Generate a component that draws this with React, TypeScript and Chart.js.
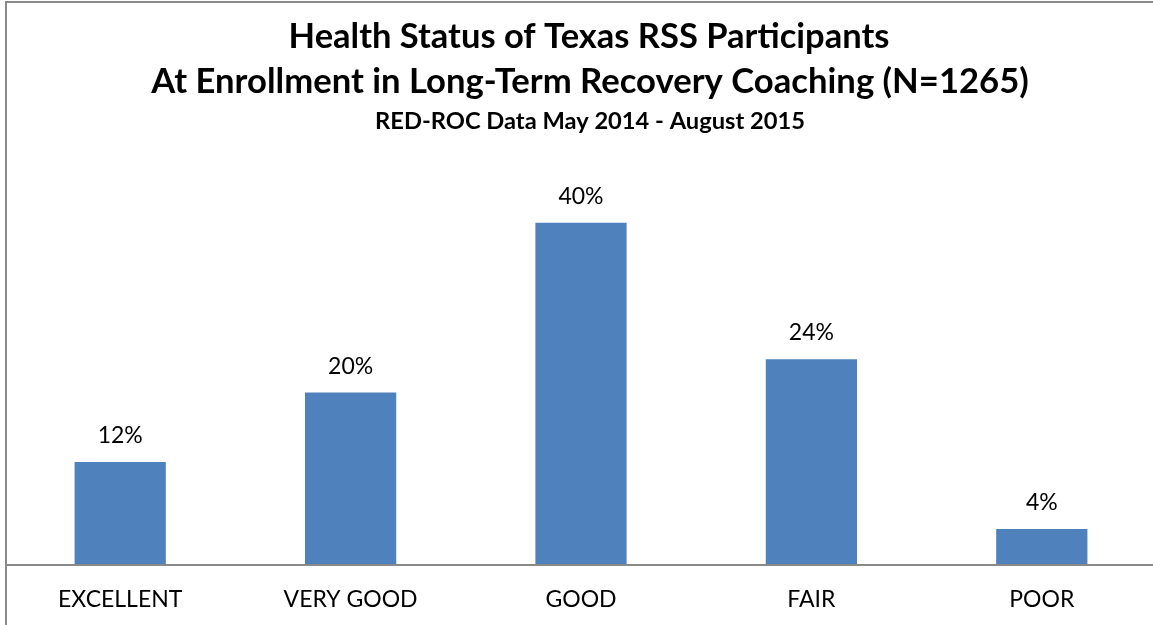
import React, { useEffect, useRef } from "react";
import { Chart, registerables } from "chart.js";

Chart.register(...registerables);

const titleLines = [
  "Health Status of Texas RSS Participants",
  "At Enrollment in Long-Term Recovery Coaching (N=1265)",
];
const subtitle = "RED-ROC Data May 2014 - August 2015";
const categories = ["EXCELLENT", "VERY GOOD", "GOOD", "FAIR", "POOR"];
const percentValues = [12.0, 20.1, 39.9, 24.0, 4.2];
const yMax = 45;

const FONT = "Lato, 'Open Sans', sans-serif";
const GRAY = "#898989";
const BAR = "#4F81BD";

const decorPlugin = {
  id: "decor",
  afterDraw(chart: any) {
    const ctx = chart.ctx as CanvasRenderingContext2D;
    ctx.save();
    // outer frame (top and left visible)
    ctx.strokeStyle = GRAY;
    ctx.lineWidth = 2;
    ctx.beginPath();
    ctx.moveTo(6, 625);
    ctx.lineTo(6, 2);
    ctx.lineTo(1160, 2);
    ctx.stroke();
    // x axis line
    ctx.beginPath();
    ctx.moveTo(6, chart.chartArea.bottom);
    ctx.lineTo(1160, chart.chartArea.bottom);
    ctx.stroke();

    const fit = (text: string, cx: number, baseline: number, width: number) => {
      ctx.font = `bold 40px ${FONT}`;
      const w = ctx.measureText(text).width;
      const size = (40 * width) / w;
      ctx.font = `bold ${size}px ${FONT}`;
      ctx.fillStyle = "#000";
      ctx.textAlign = "center";
      ctx.textBaseline = "alphabetic";
      ctx.fillText(text, cx, baseline);
    };
    fit(titleLines[0], 589, 48, 601);
    fit(titleLines[1], 590, 93, 878);
    fit(subtitle, 590, 129, 430);

    // data labels
    const meta = chart.getDatasetMeta(0);
    ctx.font = `23px ${FONT}`;
    ctx.fillStyle = "#000";
    ctx.textAlign = "center";
    ctx.textBaseline = "alphabetic";
    meta.data.forEach((bar: any, i: number) => {
      const v = chart.data.datasets[0].data[i] as number;
      ctx.fillText(`${Math.round(v)}%`, bar.x, bar.y - 19);
    });
    ctx.restore();
  },
};

export default function App() {
  const ref = useRef<HTMLCanvasElement | null>(null);
  useEffect(() => {
    document.body.style.margin = "0";
    const chart = new Chart(ref.current as HTMLCanvasElement, {
      type: "bar",
      data: {
        labels: categories,
        datasets: [
          {
            data: percentValues,
            backgroundColor: BAR,
            borderWidth: 0,
            categoryPercentage: 1,
            barPercentage: 0.396,
          },
        ],
      },
      options: {
        animation: false,
        responsive: false,
        maintainAspectRatio: false,
        layout: { padding: { top: 179, left: 5, right: 3, bottom: 0 } },
        plugins: { legend: { display: false }, tooltip: { enabled: false }, title: { display: false } },
        scales: {
          x: {
            grid: { display: false, drawTicks: false },
            border: { display: false },
            ticks: { color: "#000", font: { family: FONT, size: 23 }, padding: 21, maxRotation: 0 },
            afterFit: (scale: any) => {
              scale.height = 60;
            },
          },
          y: { display: false, min: 0, max: yMax },
        },
      },
      plugins: [decorPlugin],
    });
    return () => chart.destroy();
  }, []);
  return (
    <div style={{ width: 1153, height: 625, overflow: "hidden", background: "#fff" }}>
      <canvas ref={ref} width={1160} height={625} style={{ display: "block" }} />
    </div>
  );
}
